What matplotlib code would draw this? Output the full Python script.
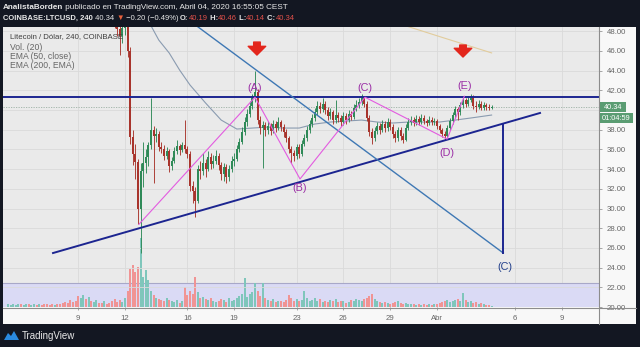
import numpy as np
import pandas as pd
import matplotlib
matplotlib.use("Agg")
import matplotlib.pyplot as plt
import matplotlib.dates as mdates
from matplotlib.patches import Rectangle, Polygon
from matplotlib.lines import Line2D
from matplotlib.transforms import blended_transform_factory

# ---------------- data (4h candles, LTC/USD) ----------------
first_candle = "2020-03-04 12:00"
first_open = 60.0
close = [
    60.5, 61.0, 61.8,
    62.5, 63.0, 62.8, 63.5, 64.0, 63.6,
    64.2, 64.8, 64.3, 65.0, 64.6, 64.0,
    63.2, 62.5, 61.8, 62.0, 61.0, 60.2,
    59.5, 58.0, 57.0, 55.5, 54.8, 53.5,
    52.0, 53.0, 54.2, 53.8, 55.0, 54.6,
    55.2, 56.0, 55.4, 54.8, 55.6, 55.0,
    53.5, 51.0, 49.0, 48.2, 47.5, 48.3,
    48.8, 46.0, 37.3, 35.5, 34.7, 30.0,
    33.8, 34.6, 35.2, 36.4, 38.0, 37.4,
    37.6, 36.2, 36.0, 35.3, 35.8, 34.3,
    34.8, 35.8, 36.3, 35.9, 36.4, 36.0,
    35.5, 32.3, 31.8, 30.8, 34.0, 33.8,
    34.6, 34.0, 35.2, 34.5, 34.8, 35.3,
    34.4, 33.5, 34.2, 33.2, 34.0, 34.8,
    35.0, 36.0, 36.8, 37.8, 38.8, 39.6,
    40.4, 41.2, 41.8, 39.0, 38.2, 38.5,
    38.0, 38.4, 37.9, 38.6, 38.2, 38.8,
    38.3, 37.8, 37.2, 36.0, 35.6, 35.3,
    36.2, 35.5, 36.6, 37.2, 38.0, 38.6,
    39.2, 39.8, 40.4, 40.1, 40.6, 40.0,
    39.4, 39.8, 39.0, 39.5, 39.2, 38.8,
    39.4, 39.0, 39.6, 39.3, 40.2, 40.5,
    40.8, 41.2, 40.6, 39.2, 37.8, 37.2,
    37.9, 38.4, 38.0, 38.6, 38.2, 38.8,
    38.3, 37.6, 37.2, 38.0, 37.4, 37.0,
    38.2, 38.8, 39.0, 38.7, 39.1, 38.8,
    39.2, 38.9, 38.7, 39.0, 38.8, 38.9,
    38.4, 38.0, 37.6, 37.4, 38.2, 38.9,
    39.5, 40.1, 39.8, 40.5, 41.0, 40.6,
    41.0, 41.3, 40.4, 40.3, 40.6, 40.2,
    40.5, 40.3, 40.19, 40.34,
]
high = [
    61.0, 61.6, 62.3,
    63.0, 63.6, 63.5, 64.0, 64.6, 64.4,
    64.8, 65.4, 65.2, 65.6, 65.5, 64.9,
    64.3, 63.6, 62.9, 62.6, 62.3, 61.4,
    60.6, 59.8, 58.4, 57.3, 56.0, 55.1,
    53.8, 53.5, 54.7, 54.8, 55.5, 55.4,
    55.7, 56.5, 56.3, 55.8, 56.0, 55.9,
    55.2, 53.8, 51.3, 49.6, 48.6, 48.8,
    49.5, 49.2, 46.4, 38.0, 36.6, 35.0,
    34.6, 36.8, 36.0, 36.8, 41.2, 38.4,
    38.2, 37.9, 36.8, 36.4, 36.2, 36.0,
    35.2, 36.2, 37.0, 36.6, 36.8, 39.0,
    36.3, 35.8, 32.8, 32.2, 34.4, 34.8,
    35.6, 35.0, 35.8, 35.6, 35.4, 35.9,
    35.6, 34.7, 34.6, 34.5, 34.4, 35.3,
    35.6, 36.4, 37.2, 38.3, 39.3, 40.1,
    40.9, 41.6, 44.0, 42.1, 39.4, 38.9,
    38.8, 38.9, 38.7, 39.0, 38.9, 39.3,
    39.0, 38.6, 38.1, 37.4, 36.3, 35.9,
    36.6, 36.5, 37.0, 37.6, 38.4, 39.0,
    39.6, 40.2, 40.9, 40.8, 41.2, 40.9,
    40.3, 40.2, 40.0, 41.0, 39.8, 39.5,
    39.8, 39.7, 40.0, 39.9, 40.6, 41.0,
    41.2, 41.6, 41.4, 40.9, 39.5, 38.2,
    38.3, 38.8, 38.7, 39.0, 38.9, 39.2,
    39.1, 38.6, 37.9, 38.3, 38.3, 37.7,
    38.6, 39.2, 39.4, 39.3, 39.5, 39.4,
    39.6, 39.5, 39.1, 39.4, 39.3, 39.2,
    39.1, 38.6, 38.2, 37.9, 38.5, 39.2,
    39.8, 40.4, 40.3, 40.8, 41.3, 41.2,
    41.4, 41.6, 41.5, 40.9, 41.0, 40.9,
    40.8, 40.7, 40.6, 40.46,
]
low = [
    59.6, 60.1, 60.7,
    61.4, 62.2, 62.3, 62.5, 63.2, 63.1,
    63.3, 64.0, 63.9, 64.0, 64.2, 63.5,
    62.8, 62.0, 61.3, 61.4, 60.6, 59.8,
    59.0, 57.5, 56.3, 55.0, 54.2, 53.0,
    51.4, 51.6, 52.7, 53.3, 53.5, 54.1,
    54.3, 54.9, 55.0, 54.4, 54.5, 54.6,
    53.0, 50.5, 48.3, 47.5, 45.6, 46.8,
    47.6, 45.4, 36.6, 34.4, 33.0, 28.4,
    25.5, 32.2, 33.6, 34.3, 36.0, 32.6,
    36.8, 35.8, 35.6, 34.9, 35.0, 33.7,
    33.9, 34.6, 35.5, 35.4, 35.7, 35.6,
    35.1, 31.8, 30.6, 29.1, 30.6, 33.0,
    33.4, 33.2, 33.8, 34.0, 34.1, 34.5,
    33.9, 32.9, 32.8, 32.6, 32.8, 33.7,
    34.3, 34.8, 35.7, 36.5, 37.5, 38.4,
    39.3, 40.1, 40.8, 38.6, 37.6, 34.1,
    37.4, 37.6, 37.5, 37.7, 37.8, 38.0,
    37.9, 37.3, 36.8, 35.6, 34.6, 34.8,
    35.0, 35.1, 35.3, 36.3, 36.9, 37.7,
    38.3, 38.9, 39.5, 39.7, 39.8, 39.6,
    39.0, 39.1, 38.6, 38.7, 38.8, 38.4,
    38.5, 38.6, 38.8, 39.0, 39.1, 39.9,
    40.2, 40.5, 40.3, 38.9, 37.4, 36.6,
    36.9, 37.6, 37.6, 37.8, 37.8, 37.9,
    38.0, 37.2, 36.8, 36.9, 37.0, 36.7,
    36.9, 38.0, 38.5, 38.4, 38.5, 38.5,
    38.6, 38.6, 38.4, 38.5, 38.5, 38.5,
    38.1, 37.7, 37.3, 37.0, 37.2, 38.0,
    38.6, 39.2, 39.0, 39.5, 40.2, 40.3,
    40.4, 40.8, 40.1, 39.8, 40.1, 40.0,
    40.0, 40.0, 40.0, 40.14,
]
volume = [
    30, 25, 28,
    22, 30, 26, 20, 35, 28,
    25, 30, 22, 28, 24, 30,
    26, 22, 30, 24, 28, 35,
    40, 55, 45, 70, 50, 60,
    110, 90, 120, 80, 100, 60,
    50, 70, 45, 40, 60, 35,
    45, 60, 80, 50, 70, 55,
    90, 160, 380, 420, 350, 400,
    690, 300, 370, 270, 160, 120,
    90, 80, 70, 60, 90, 70,
    60, 50, 70, 40, 60, 200,
    120, 160, 130, 300, 150, 90,
    100, 80, 70, 90, 60, 50,
    60, 80, 70, 50, 90, 60,
    70, 90, 110, 130, 290, 100,
    130, 150, 240, 160, 110, 240,
    90, 70, 60, 80, 50, 60,
    60, 50, 70, 120, 90, 60,
    80, 60, 70, 160, 90, 60,
    70, 90, 60, 80, 50, 60,
    50, 70, 60, 80, 50, 60,
    60, 40, 50, 70, 60, 80,
    70, 60, 80, 90, 110, 130,
    80, 60, 50, 40, 50, 40,
    30, 40, 50, 60, 40, 30,
    40, 30, 35, 30, 25, 30,
    25, 30, 20, 35, 25, 30,
    30, 40, 50, 60, 70, 50,
    60, 70, 80, 60, 140, 70,
    50, 60, 40, 50, 30, 40,
    30, 25, 20, 15,
]
# EMA lines (candle index -> value)
ema50_idx = [54, 58, 62, 66, 70, 76, 82, 88, 94, 100, 106, 112, 118, 124,
             130, 136, 142, 148, 154, 160, 166, 172, 178, 186]
ema50_val = [49.04, 47.1, 45.79, 44.06, 42.54, 40.71, 38.98, 38.07, 38.17,
             38.27, 38.17, 38.17, 38.58, 38.78, 38.88, 38.98, 38.78, 38.68,
             38.78, 38.78, 38.78, 38.98, 39.19, 39.49]
ema200_idx = [150, 168, 186]
ema200_val = [48.8, 47.29, 45.80]

# drawn lines
resistance = 41.3
support_t = ["2020-03-07 09:15", "2020-04-07 14:30"]
support_p = [25.48, 39.70]
fall_t = ["2020-03-16 04:00", "2020-04-05 06:00"]
fall_p = [49.04, 25.48]
proj_t = ["2020-04-05 06:00", "2020-04-05 06:00"]
proj_p = [25.48, 38.63]
wave_t = ["2020-03-12 21:30", "2020-03-20 08:00", "2020-03-23 05:15",
          "2020-03-27 09:15", "2020-04-01 15:30", "2020-04-02 18:00"]
wave_p = [28.4, 41.3, 33.0, 41.3, 37.05, 41.4]
wave_lbl = ["", "(A)", "(B)", "(C)", "(D)", "(E)"]
arrow_t = ["2020-03-20 11:00", "2020-04-02 16:00"]
arrow_top = [46.9, 46.6]
arrow_tip = [45.58, 45.38]
last_price = 40.34

xtick_dates = ["2020-03-09", "2020-03-12", "2020-03-16", "2020-03-19",
               "2020-03-23", "2020-03-26", "2020-03-29", "2020-04-01",
               "2020-04-06", "2020-04-09"]
xtick_labels = ["9", "12", "16", "19", "23", "26", "29", "Abr", "6", "9"]
ytick_vals = list(range(20, 49, 2))

# ---------------- figure ----------------
W, H = 640, 347
fig = plt.figure(figsize=(6.4, 3.47), dpi=100)
fig.patch.set_facecolor("#131722")
FAM = ["Liberation Sans", "DejaVu Sans"]


def fx(x):
    return x / W


def fy(y):
    return 1 - y / H


def prect(x0, y0, x1, y1, **kw):
    fig.add_artist(Rectangle((fx(x0), fy(y1)), (x1 - x0) / W, (y1 - y0) / H,
                             transform=fig.transFigure, **kw))


def pline(x0, y0, x1, y1, **kw):
    fig.add_artist(Line2D([fx(x0), fx(x1)], [fy(y0), fy(y1)],
                          transform=fig.transFigure, **kw))


# white panel
prect(3, 27, 636, 324, facecolor="#f8f8f8", edgecolor="none", zorder=0)

rect = [fx(3), fy(307), 596 / W, 280 / H]
axv = fig.add_axes(rect)
ax = fig.add_axes(rect, sharex=axv)
axv.set_facecolor("#eaeaea")
ax.patch.set_visible(False)

times = pd.date_range(first_candle, periods=len(close), freq="4h")
t = mdates.date2num(times)
c = np.array(close)
o = np.array([first_open] + close[:-1])
hi = np.maximum(np.array(high), np.maximum(o, c))
lo = np.minimum(np.array(low), np.minimum(o, c))
up = c >= o

x_left = mdates.date2num(pd.Timestamp("2020-03-04 04:18"))
x_right = mdates.date2num(pd.Timestamp("2020-04-11 09:14"))
ax.set_xlim(x_left, x_right)
ax.set_ylim(20, 48.43)
axv.set_ylim(0, 2800)

# volume pane: lavender band + bars
band_tr = blended_transform_factory(axv.transAxes, ax.transData)
axv.add_patch(Rectangle((0, 20), 1, 2.4, transform=band_tr,
                        facecolor="#dadaf5", edgecolor="none", zorder=0.5))
axv.add_line(Line2D([0, 1], [22.4, 22.4], transform=band_tr,
                    color="#a8a8c8", lw=0.8, zorder=0.6))
vcol = np.where(up, "#7fc6bb", "#f09494")
axv.bar(t, volume, width=0.7 / 6, color=vcol, linewidth=0, zorder=1)
axv.set_yticks([])
for s in axv.spines.values():
    s.set_visible(False)
axv.tick_params(axis="x", length=0, labelbottom=False)
for d in xtick_dates:
    axv.axvline(mdates.date2num(pd.Timestamp(d)), color="#dadada", lw=0.6,
                zorder=0.2)

# price grid
for v in ytick_vals:
    ax.axhline(v, color="#dadada", lw=0.6, zorder=0.3)

# candles
UP, DN = "#2f8a58", "#a8342c"
ccol = np.where(up, UP, DN)
ax.vlines(t, lo, hi, colors=ccol, lw=0.65, zorder=3)
ax.bar(t, np.maximum(np.abs(c - o), 0.08), bottom=np.minimum(o, c),
       width=0.78 / 6, color=ccol, linewidth=0, zorder=4)

# EMAs
ax.plot(t[ema50_idx], ema50_val, color="#8a9bb0", lw=0.8, zorder=2.5)
ax.plot(t[ema200_idx], ema200_val, color="#e2cc9c", lw=0.8, zorder=2.5)

# last price line
ax.axhline(last_price, color="#9cb0a4", lw=0.6, ls=(0, (1.5, 1.5)), zorder=2)

# drawn trendlines
ax.axhline(resistance, color="#1c2590", lw=1.4, zorder=5)
ax.plot(pd.to_datetime(support_t), support_p, color="#1c2590", lw=1.4, zorder=5)
ax.plot(pd.to_datetime(fall_t), fall_p, color="#3f78b4", lw=1.0, zorder=5)
ax.plot(pd.to_datetime(proj_t), proj_p, color="#1c2590", lw=1.4, zorder=5)
ax.plot(pd.to_datetime(wave_t), wave_p, color="#e35be0", lw=0.8, zorder=5)

wt = mdates.date2num(pd.to_datetime(wave_t))
offs = [0, 9, -9, 9, -14, 10]
for xi, yi, lab, dy in zip(wt, wave_p, wave_lbl, offs):
    if lab:
        ax.annotate(lab, (xi, yi), xytext=(0, dy), textcoords="offset pixels",
                    ha="center", va="center", color="#9b2fa6", fontsize=7.8,
                    family=FAM, zorder=6)
ax.annotate("(C)", (mdates.date2num(pd.Timestamp(proj_t[0])), proj_p[0]),
            xytext=(2, -14), textcoords="offset pixels", ha="center",
            va="center", color="#24418c", fontsize=7.8, family=FAM, zorder=6)

at = mdates.date2num(pd.to_datetime(arrow_t))
for xi, y0, y1 in zip(at, arrow_top, arrow_tip):
    ax.annotate("", xy=(xi, y1), xytext=(xi, y0),
                arrowprops=dict(arrowstyle="simple,head_length=0.6,head_width=1.2,tail_width=0.45",
                                color="#e3261c", shrinkA=0, shrinkB=0,
                                mutation_scale=10.5), zorder=6)

# axes / ticks
for s in ax.spines.values():
    s.set_visible(False)
ax.set_xticks(mdates.date2num(pd.to_datetime(xtick_dates)))
ax.set_xticklabels(xtick_labels)
ax.yaxis.tick_right()
ax.set_yticks(ytick_vals)
# the 40.00 label sits under the last-price box in the reference
ax.set_yticklabels(["" if v == 40 else f"{v:.2f}" for v in ytick_vals])
ax.tick_params(axis="x", length=2.5, width=0.6, color="#999999", pad=3.5,
               labelsize=5.6, labelcolor="#666666")
ax.tick_params(axis="y", length=2.5, width=0.6, color="#999999", pad=3,
               labelsize=5.6, labelcolor="#666666")
for lbl in ax.get_xticklabels() + ax.get_yticklabels():
    lbl.set_family(FAM)

# borders
pline(599, 27, 599, 324, color="#8c8c8c", lw=0.8, zorder=10)
pline(3, 307.5, 636, 307.5, color="#8c8c8c", lw=0.8, zorder=10)

# price label boxes
prect(600, 102, 626, 112, facecolor="#5a9c72", edgecolor="none", zorder=11)
fig.text(fx(613), fy(107), "40.34", color="white", fontsize=5.3,
         ha="center", va="center", family=FAM, zorder=12)
prect(600, 113, 633, 123, facecolor="#5a9c72", edgecolor="none", zorder=11)
fig.text(fx(616.5), fy(118), "01:04:59", color="white", fontsize=5.3,
         ha="center", va="center", family=FAM, zorder=12)

# legend texts
fig.text(fx(10), fy(37), "Litecoin / Dólar, 240, COINBASE", color="#3e3e3e",
         fontsize=5.6, ha="left", va="center", family=FAM, zorder=12)
for yy, s in zip([47, 56.5, 66], ["Vol. (20)", "EMA (50, close)", "EMA (200, EMA)"]):
    fig.text(fx(10), fy(yy), s, color="#666666", fontsize=6.2, ha="left",
             va="center", family=FAM, zorder=12)

# header with multi-coloured pieces
renderer = fig.canvas.get_renderer()


def seq_text(x_px, y_px, parts, size):
    x = x_px
    for s, col, wt in parts:
        tx = fig.text(fx(x), fy(y_px), s, color=col, fontsize=size,
                      fontweight=wt, family=FAM, ha="left", va="center",
                      zorder=12)
        x += tx.get_window_extent(renderer).width


RED = "#e0504a"
WH = "#e8e8e8"
seq_text(3, 7.5, [("AnalistaBorden", WH, "bold"),
                  (" publicado en TradingView.com, Abril 04, 2020 16:55:05 CEST", WH, "normal")], 5.9)
seq_text(3, 18, [("COINBASE:LTCUSD, 240", WH, "bold"), (" 40.34 ", WH, "normal"),
                 ("▼", "#e8603c", "normal"), (" \u22120.20 (\u22120.49%) ", WH, "normal"),
                 ("O:", WH, "bold"), ("40.19", RED, "normal"),
                 (" H:", WH, "bold"), ("40.46", RED, "normal"),
                 (" L:", WH, "bold"), ("40.14", RED, "normal"),
                 (" C:", WH, "bold"), ("40.34", RED, "normal")], 5.5)

# footer logo + text
fig.add_artist(Polygon([(fx(4), fy(340)), (fx(8), fy(333)), (fx(11), fy(336)),
                        (fx(14), fy(331)), (fx(19), fy(340))], closed=True,
                       transform=fig.transFigure, facecolor="#2a8ae0",
                       edgecolor="none"))
fig.text(fx(22), fy(336), "TradingView", color="#e8e8e8", fontsize=7,
         family=FAM, ha="left", va="center")

fig.savefig("out.png", dpi=100, facecolor=fig.get_facecolor())
